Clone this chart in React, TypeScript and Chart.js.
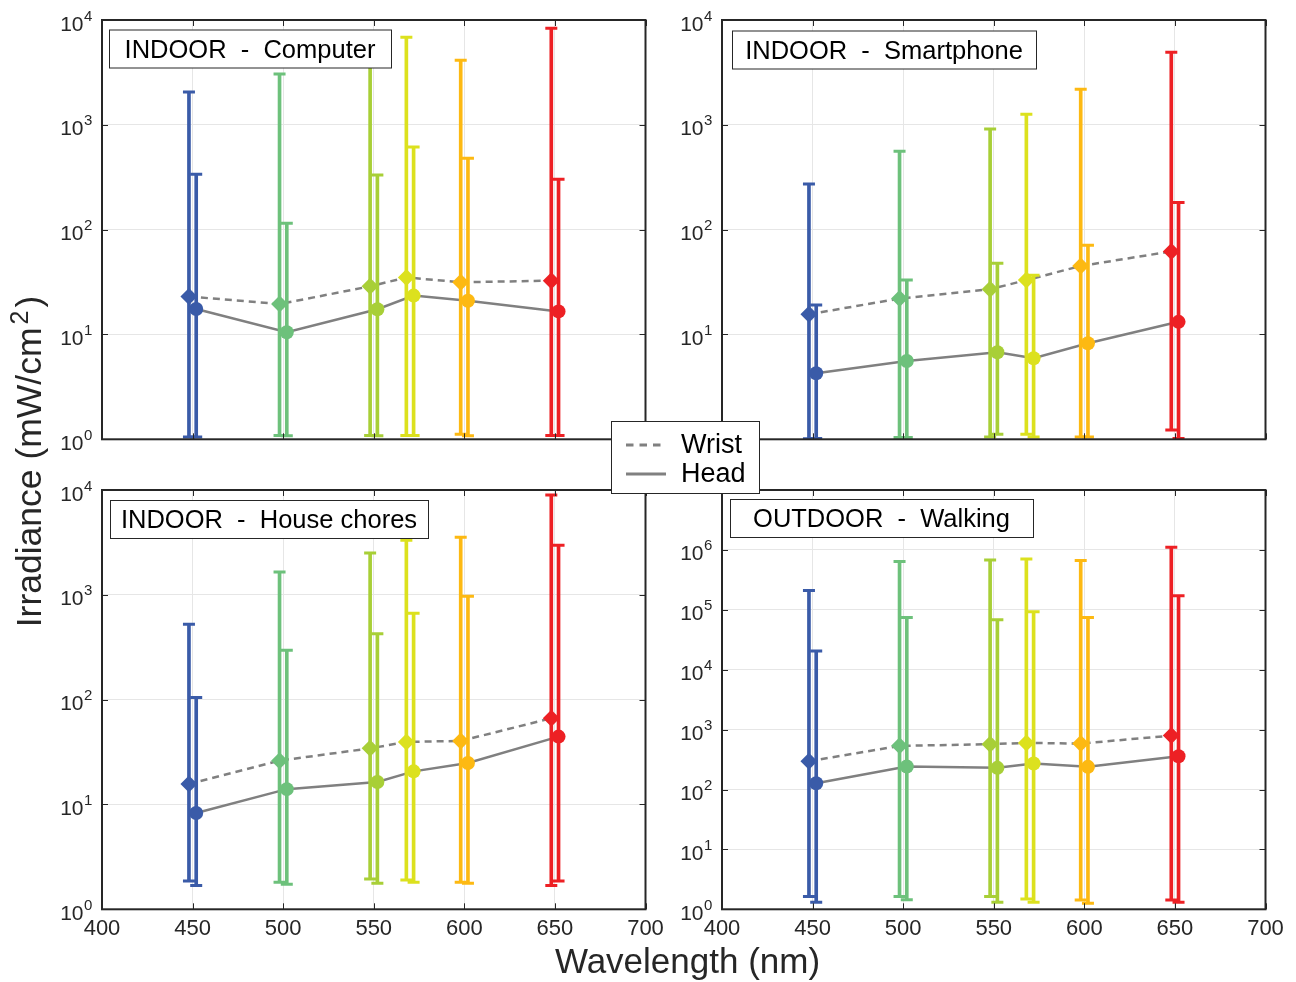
import React, { useEffect, useRef } from "react";
import { Chart, registerables } from "chart.js";

Chart.register(...registerables);

const FONT = '"Liberation Sans", Arial, Helvetica, sans-serif';
const INK = "#262626";
const LINE_GRAY = "#808080";
const GRID = "#e6e6e6";

// ---- shared data ----
const wavelengths = [450, 500, 550, 570, 600, 650];
const barColors = ["#3A5BA8", "#6DC17B", "#A8CF37", "#DCE11E", "#FDB912", "#ED2024"];
const wristShift = -2;
const headShift = 2;
const xTicks = [400, 450, 500, 550, 600, 650, 700];
const indoorDecades = [1, 10, 100, 1000, 10000];
const outdoorDecades = [1, 10, 100, 1000, 10000, 100000, 1000000, 10000000];

// ---- INDOOR - Computer ----
const computerWrist = [23, 19.5, 28.8, 35, 31.5, 32.6];
const computerWristHigh = [2056, 3054, 5500, 6840, 4120, 8330];
const computerWristLow = [1.05, 1.09, 1.09, 1.09, 1.12, 1.09];
const computerHead = [17.5, 10.5, 17.4, 23.5, 21, 16.6];
const computerHeadHigh = [337, 115, 332, 615, 479, 302];
const computerHeadLow = [1.05, 1.08, 1.08, 1.09, 1.08, 1.09];

// ---- INDOOR - Smartphone ----
const phoneWrist = [15.6, 22, 27, 33, 45, 62];
const phoneWristHigh = [273, 559, 912, 1259, 2180, 4920];
const phoneWristLow = [1.01, 1.04, 1.05, 1.12, 1.05, 1.23];
const phoneHead = [4.26, 5.59, 6.76, 5.93, 8.24, 13.2];
const phoneHeadHigh = [19.1, 33, 47.7, 36.7, 71, 182];
const phoneHeadLow = [1.02, 1.04, 1.12, 1.05, 1.05, 1.02];

// ---- INDOOR - House chores ----
const choresWrist = [15.7, 26.2, 34.3, 39.5, 40.4, 66.4];
const choresWristHigh = [523, 1651, 2506, 3311, 3535, 8960];
const choresWristLow = [1.86, 1.81, 1.95, 1.9, 1.81, 1.69];
const choresHead = [8.3, 14, 16.4, 20.7, 24.9, 44.4];
const choresHeadHigh = [105, 296, 426, 666, 968, 2966];
const choresHeadLow = [1.69, 1.73, 1.77, 1.81, 1.77, 1.86];

// ---- OUTDOOR - Walking ----
const walkWrist = [297, 535, 570, 600, 585, 794];
const walkWristHigh = [210000, 639000, 681000, 708000, 664000, 1110000];
const walkWristLow = [1.63, 1.63, 1.63, 1.49, 1.43, 1.43];
const walkHead = [127, 242, 230, 271, 239, 359];
const walkHeadHigh = [20500, 74500, 68100, 92600, 74500, 171000];
const walkHeadLow = [1.31, 1.45, 1.31, 1.31, 1.26, 1.31];

type Series = {
  wrist: number[];
  wristHigh: number[];
  wristLow: number[];
  head: number[];
  headHigh: number[];
  headLow: number[];
};

type PanelCfg = {
  left: number;
  top: number;
  w: number;
  h: number;
  pad: { left: number; top: number; right: number; bottom: number };
  yMax: number;
  decades: number[];
  yLabelMax: number;
  showX: boolean;
  series: Series;
};

function buildDatasets(s: Series): any[] {
  const wristX = wavelengths.map((w) => w + wristShift);
  const headX = wavelengths.map((w) => w + headShift);
  const pairColors = barColors.flatMap((c) => [c, c]);
  return [
    {
      type: "line",
      label: "Wrist",
      data: wristX.map((x, i) => ({ x, y: s.wrist[i] })),
      borderColor: LINE_GRAY,
      borderWidth: 2.5,
      borderDash: [7, 5],
      pointRadius: 0,
      fill: false,
      order: 30,
    },
    {
      type: "line",
      label: "Head",
      data: headX.map((x, i) => ({ x, y: s.head[i] })),
      borderColor: LINE_GRAY,
      borderWidth: 2.5,
      pointRadius: 0,
      fill: false,
      order: 30,
    },
    {
      type: "bar",
      label: "Wrist range",
      data: wristX.map((x, i) => ({ x, y: [s.wristLow[i], s.wristHigh[i]] })),
      backgroundColor: barColors,
      borderWidth: 0,
      barThickness: 3,
      grouped: false,
      order: 20,
    },
    {
      type: "bar",
      label: "Head range",
      data: headX.map((x, i) => ({ x, y: [s.headLow[i], s.headHigh[i]] })),
      backgroundColor: barColors,
      borderWidth: 0,
      barThickness: 3,
      grouped: false,
      order: 20,
    },
    {
      type: "line",
      label: "Wrist caps",
      showLine: false,
      data: wristX.flatMap((x, i) => [
        { x, y: s.wristLow[i] },
        { x, y: s.wristHigh[i] },
      ]),
      pointStyle: "line",
      pointRadius: 6,
      pointBorderWidth: 3,
      pointBorderColor: pairColors,
      order: 10,
    },
    {
      type: "line",
      label: "Head caps",
      showLine: false,
      data: headX.flatMap((x, i) => [
        { x, y: s.headLow[i] },
        { x, y: s.headHigh[i] },
      ]),
      pointStyle: "line",
      pointRadius: 6,
      pointBorderWidth: 3,
      pointBorderColor: pairColors,
      order: 10,
    },
    {
      type: "line",
      label: "Wrist marker",
      showLine: false,
      data: wristX.map((x, i) => ({ x, y: s.wrist[i] })),
      pointStyle: "rectRot",
      pointRadius: 8.5,
      pointBackgroundColor: barColors,
      pointBorderColor: barColors,
      pointBorderWidth: 0,
      order: 1,
    },
    {
      type: "line",
      label: "Head marker",
      showLine: false,
      data: headX.map((x, i) => ({ x, y: s.head[i] })),
      pointStyle: "circle",
      pointRadius: 7,
      pointBackgroundColor: barColors,
      pointBorderColor: barColors,
      pointBorderWidth: 0,
      order: 1,
    },
  ];
}

function makeFramePlugin(showX: boolean, yLabelMax: number) {
  return {
    id: "frame",
    afterDraw(chart: any) {
      const { ctx, chartArea: a, scales } = chart;
      const xs = scales.x;
      const ys = scales.y;
      ctx.save();
      ctx.strokeStyle = INK;
      ctx.lineWidth = 1;
      ctx.beginPath();
      xs.ticks.forEach((t: any) => {
        const px = Math.round(xs.getPixelForValue(t.value)) + 0.5;
        ctx.moveTo(px, a.top);
        ctx.lineTo(px, a.top + 6);
        ctx.moveTo(px, a.bottom);
        ctx.lineTo(px, a.bottom - 6);
      });
      ys.ticks.forEach((t: any) => {
        const py = Math.round(ys.getPixelForValue(t.value)) + 0.5;
        ctx.moveTo(a.left, py);
        ctx.lineTo(a.left + 6, py);
        ctx.moveTo(a.right, py);
        ctx.lineTo(a.right - 6, py);
      });
      ctx.stroke();
      ctx.lineWidth = 2;
      ctx.strokeRect(a.left, a.top, a.right - a.left, a.bottom - a.top);

      ctx.fillStyle = INK;
      ctx.textBaseline = "alphabetic";
      ys.ticks.forEach((t: any) => {
        if (t.value > yLabelMax) return;
        const py = ys.getPixelForValue(t.value);
        const exp = String(Math.round(Math.log10(t.value)));
        ctx.font = `21px ${FONT}`;
        ctx.textAlign = "right";
        ctx.fillText("10", a.left - 18.5, py + 10.5);
        ctx.font = `15px ${FONT}`;
        ctx.textAlign = "left";
        ctx.fillText(exp, a.left - 18, py + 0.5);
      });
      if (showX) {
        ctx.font = `22px ${FONT}`;
        ctx.textAlign = "center";
        xs.ticks.forEach((t: any) => {
          const px = xs.getPixelForValue(t.value);
          ctx.fillText(String(t.value), px, a.bottom + 26);
        });
      }
      ctx.restore();
    },
  };
}

function Panel({ cfg }: { cfg: PanelCfg }) {
  const ref = useRef<HTMLCanvasElement>(null);
  useEffect(() => {
    const decades = cfg.decades;
    const chart = new Chart(ref.current as HTMLCanvasElement, {
      type: "line",
      data: { datasets: buildDatasets(cfg.series) as any },
      options: {
        responsive: false,
        maintainAspectRatio: false,
        devicePixelRatio: 1,
        animation: false,
        events: [],
        layout: { padding: cfg.pad },
        plugins: { legend: { display: false }, tooltip: { enabled: false }, title: { display: false } },
        scales: {
          x: {
            type: "linear",
            min: 400,
            max: 700,
            offset: false,
            afterBuildTicks: (s: any) => {
              s.ticks = xTicks.map((v) => ({ value: v }));
            },
            afterFit: (s: any) => {
              s.height = 0;
            },
            grid: { color: GRID, lineWidth: 1, drawTicks: false, offset: false },
            border: { display: false },
            ticks: { display: false },
          },
          y: {
            type: "logarithmic",
            min: 1,
            max: cfg.yMax,
            beginAtZero: false,
            afterBuildTicks: (s: any) => {
              s.ticks = decades.map((v) => ({ value: v }));
            },
            afterFit: (s: any) => {
              s.width = 0;
            },
            grid: { color: GRID, lineWidth: 1, drawTicks: false },
            border: { display: false },
            ticks: { display: false },
          },
        } as any,
      },
      plugins: [makeFramePlugin(cfg.showX, cfg.yLabelMax)],
    });
    return () => chart.destroy();
  }, []);
  return (
    <canvas
      ref={ref}
      width={cfg.w}
      height={cfg.h}
      style={{ position: "absolute", left: cfg.left, top: cfg.top, width: cfg.w, height: cfg.h }}
    />
  );
}

const panels: PanelCfg[] = [
  {
    left: 0, top: 0, w: 680, h: 470,
    pad: { left: 102, top: 20, right: 34.5, bottom: 30.7 },
    yMax: 10000, decades: indoorDecades, yLabelMax: 10000, showX: false,
    series: { wrist: computerWrist, wristHigh: computerWristHigh, wristLow: computerWristLow, head: computerHead, headHigh: computerHeadHigh, headLow: computerHeadLow },
  },
  {
    left: 660, top: 0, w: 636, h: 470,
    pad: { left: 62, top: 20, right: 30.5, bottom: 30.7 },
    yMax: 10000, decades: indoorDecades, yLabelMax: 10000, showX: false,
    series: { wrist: phoneWrist, wristHigh: phoneWristHigh, wristLow: phoneWristLow, head: phoneHead, headHigh: phoneHeadHigh, headLow: phoneHeadLow },
  },
  {
    left: 0, top: 470, w: 680, h: 512,
    pad: { left: 102, top: 20, right: 34.5, bottom: 72.7 },
    yMax: 10000, decades: indoorDecades, yLabelMax: 10000, showX: true,
    series: { wrist: choresWrist, wristHigh: choresWristHigh, wristLow: choresWristLow, head: choresHead, headHigh: choresHeadHigh, headLow: choresHeadLow },
  },
  {
    left: 660, top: 470, w: 636, h: 512,
    pad: { left: 62, top: 20, right: 30.5, bottom: 72.7 },
    yMax: 10000000, decades: outdoorDecades, yLabelMax: 1000000, showX: true,
    series: { wrist: walkWrist, wristHigh: walkWristHigh, wristLow: walkWristLow, head: walkHead, headHigh: walkHeadHigh, headLow: walkHeadLow },
  },
];

const titleBoxes = [
  { x: 109, y: 29.5, w: 282, text: "INDOOR  -  Computer" },
  { x: 732, y: 30.5, w: 304, text: "INDOOR  -  Smartphone" },
  { x: 110, y: 500, w: 318, text: "INDOOR  -  House chores" },
  { x: 730, y: 499, w: 303, text: "OUTDOOR  -  Walking" },
];

export default function App() {
  return (
    <div style={{ position: "absolute", left: 0, top: 0, width: 1296, height: 982, background: "#fff", overflow: "hidden" }}>
      {panels.map((p, i) => (
        <Panel key={i} cfg={p} />
      ))}
      <svg
        width={1296}
        height={982}
        style={{ position: "absolute", left: 0, top: 0, pointerEvents: "none" }}
        fontFamily={FONT}
      >
        {titleBoxes.map((b, i) => (
          <g key={i}>
            <rect x={b.x + 0.5} y={b.y + 0.5} width={b.w} height={38} fill="#fff" stroke={INK} strokeWidth={1} />
            <text
              x={b.x + b.w / 2}
              y={b.y + 28}
              textAnchor="middle"
              fontSize={25.5}
              fill="#000"
              style={{ whiteSpace: "pre" }}
            >
              {b.text}
            </text>
          </g>
        ))}
        <g>
          <rect x={611.5} y={421.5} width={148} height={72} fill="#fff" stroke={INK} strokeWidth={1} />
          <line x1={626} y1={445} x2={666} y2={445} stroke={LINE_GRAY} strokeWidth={3} strokeDasharray="7.5 6" />
          <line x1={626} y1={474} x2={666} y2={474} stroke={LINE_GRAY} strokeWidth={3} />
          <text x={681} y={453} fontSize={27} fill="#000">Wrist</text>
          <text x={681} y={482} fontSize={27} fill="#000">Head</text>
        </g>
        <text x={687.5} y={972.5} textAnchor="middle" fontSize={35} fill={INK}>
          Wavelength (nm)
        </text>
        <text transform="translate(41,461.5) rotate(-90)" textAnchor="middle" fontSize={35.5} fill={INK}>
          Irradiance (mW/cm
          <tspan dx={3} dy={-13} fontSize={25}>2</tspan>
          <tspan dx={3} dy={13}>)</tspan>
        </text>
      </svg>
    </div>
  );
}
